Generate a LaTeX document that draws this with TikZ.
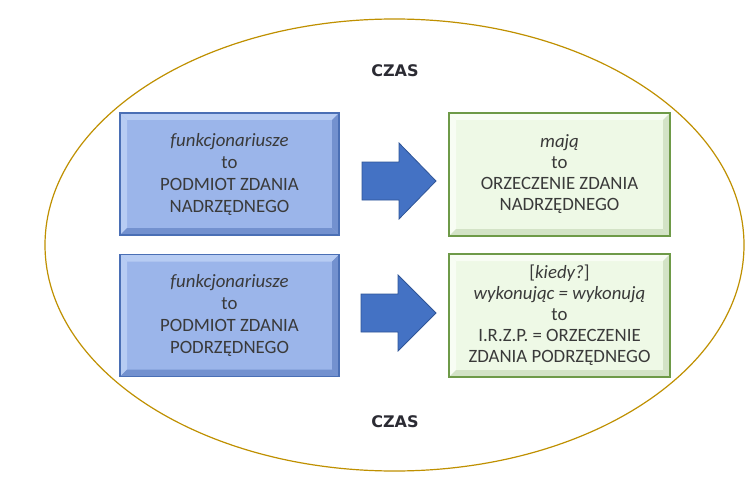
\documentclass[tikz,border=0pt]{standalone}
\usepackage{fontspec}
\setmainfont{Carlito}
\newfontfamily\czasfont{DejaVu Sans}
\definecolor{bluefill}{HTML}{9BB5EA}
\definecolor{bluelight}{HTML}{B7CCF3}
\definecolor{bluedark}{HTML}{7391CF}
\definecolor{blueline}{HTML}{4A6FB5}
\definecolor{greenfill}{HTML}{EEF9E6}
\definecolor{greenlight}{HTML}{F8FDF4}
\definecolor{greendark}{HTML}{D3E3C6}
\definecolor{greenline}{HTML}{6E9A48}
\definecolor{arrowfill}{HTML}{4472C4}
\definecolor{arrowline}{HTML}{2F5597}
\definecolor{gold}{HTML}{BF9000}
\definecolor{txt}{HTML}{3A3A3A}
\definecolor{czastxt}{HTML}{2B2B33}
\newcommand\bevelbox[3]{%
  \fill[#2] (#1.north west) -- (#1.north east) -- ([shift={(-7,7)}]#1.north east) -- ([shift={(7,7)}]#1.north west) -- cycle;
  \fill[#2] (#1.north west) -- ([shift={(7,7)}]#1.north west) -- ([shift={(7,-7)}]#1.south west) -- (#1.south west) -- cycle;
  \fill[#3] (#1.south west) -- (#1.south east) -- ([shift={(-7,-7)}]#1.south east) -- ([shift={(7,-7)}]#1.south west) -- cycle;
  \fill[#3] (#1.north east) -- ([shift={(-7,7)}]#1.north east) -- ([shift={(-7,-7)}]#1.south east) -- (#1.south east) -- cycle;
}
\begin{document}
\begin{tikzpicture}[x=1pt,y=-1pt,
  bluebox/.style={rectangle, fill=bluefill, draw=blueline, line width=1.2pt, outer sep=0pt,
    minimum width=219pt, minimum height=122pt},
  greenbox/.style={rectangle, fill=greenfill, draw=greenline, line width=1.2pt, outer sep=0pt,
    minimum width=221pt, minimum height=123pt},
  boxtext/.style={align=center, text=txt, font=\fontsize{18.8}{22}\selectfont},
  greentext/.style={align=center, text=txt, font=\fontsize{18.8}{21}\selectfont},
  czas/.style={font=\czasfont\bfseries\fontsize{16}{18}\selectfont, text=czastxt},
  blockarrow/.style={fill=arrowfill, draw=arrowline, line width=0.8pt, line join=miter}
]
\useasboundingbox (0,0) rectangle (752,484);
\fill[white] (0,0) rectangle (752,484);
\draw[gold, line width=1.2pt] (394.5,245) ellipse [x radius=349.5, y radius=226];

\node[czas] (czas1) at (395,71) {CZAS};
\node[czas] (czas2) at (395,422) {CZAS};

\node[bluebox] (b1) at (229.5,174) {};
\bevelbox{b1}{bluelight}{bluedark}
\draw[blueline, line width=1.2pt] (b1.north west) rectangle (b1.south east);
\node[boxtext] (t1) at (b1.center) {\textit{funkcjonariusze}\\to\\PODMIOT ZDANIA\\NADRZĘDNEGO};

\node[bluebox] (b2) at (229.5,315.5) {};
\bevelbox{b2}{bluelight}{bluedark}
\draw[blueline, line width=1.2pt] (b2.north west) rectangle (b2.south east);
\node[boxtext] (t2) at (b2.center) {\textit{funkcjonariusze}\\to\\PODMIOT ZDANIA\\PODRZĘDNEGO};

\node[greenbox] (g1) at (559.5,174.5) {};
\bevelbox{g1}{greenlight}{greendark}
\draw[greenline, line width=1.2pt] (g1.north west) rectangle (g1.south east);
\node[greentext] (t3) at (g1.center) {\textit{mają}\\to\\ORZECZENIE ZDANIA\\NADRZĘDNEGO};

\node[greenbox] (g2) at (559.5,315.5) {};
\bevelbox{g2}{greenlight}{greendark}
\draw[greenline, line width=1.2pt] (g2.north west) rectangle (g2.south east);
\node[greentext] (t4) at (g2.center) {[\textit{kiedy?}]\\\textit{wykonując = wykonują}\\to\\I.R.Z.P. = ORZECZENIE\\ZDANIA PODRZĘDNEGO};

\draw[blockarrow] (362,162) -- (399,162) -- (399,143) -- (436,181) -- (399,219) -- (399,200) -- (362,200) -- cycle;
\draw[blockarrow] (361,294) -- (398,294) -- (398,275) -- (436,313) -- (398,351) -- (398,332) -- (361,332) -- cycle;
\end{tikzpicture}
\end{document}
